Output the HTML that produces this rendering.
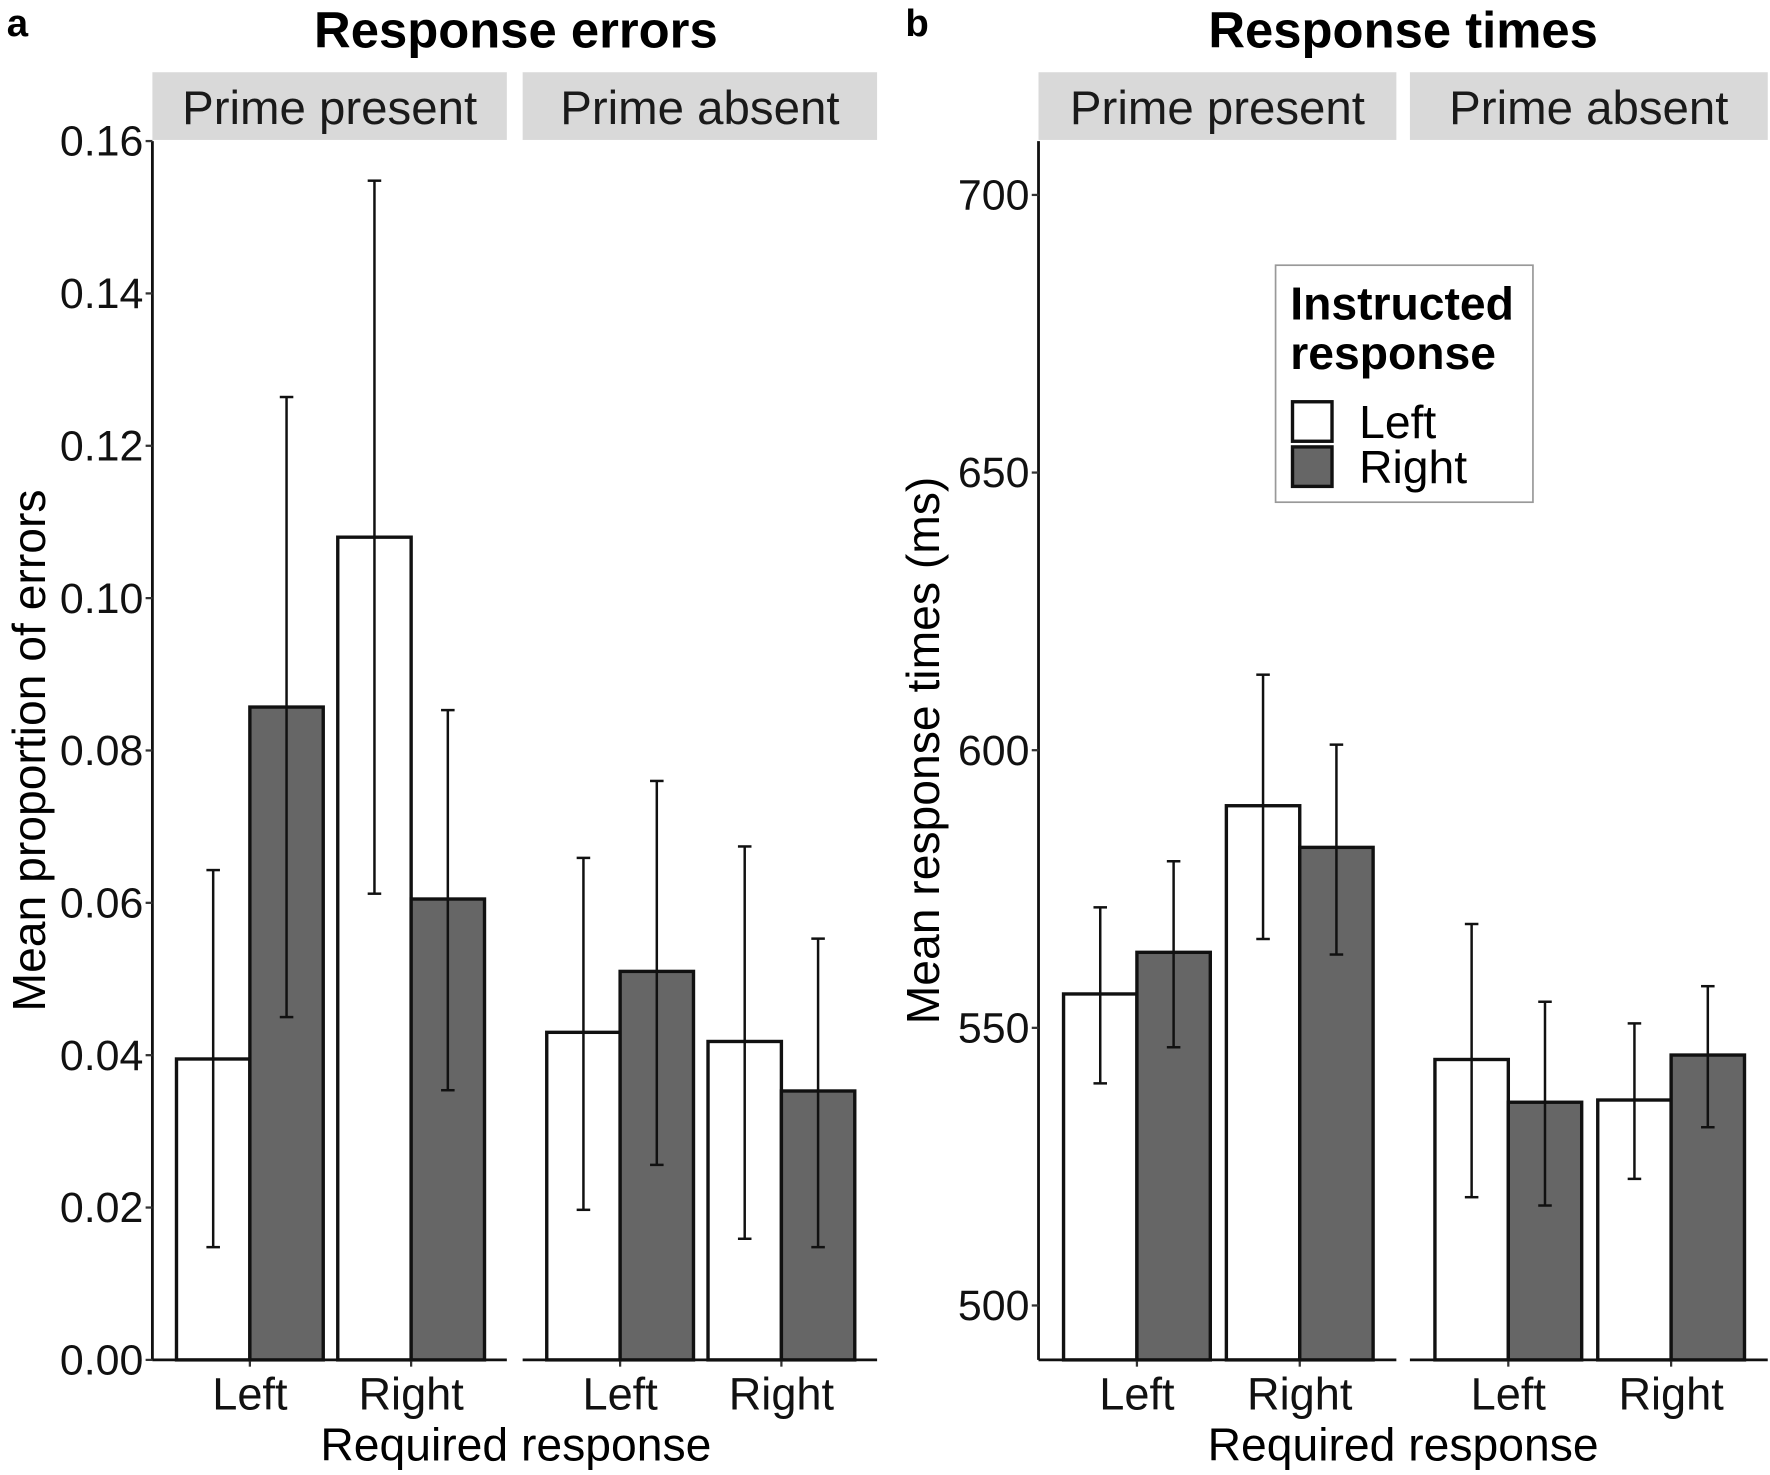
<!DOCTYPE html>
<html><head><meta charset="utf-8"><style>
html,body{margin:0;padding:0;background:#fff;}
svg{display:block;font-family:"Liberation Sans",Arial,sans-serif;}
</style></head><body>
<svg id="chart" width="1770" height="1475" viewBox="0 0 1568 1307" preserveAspectRatio="none" xmlns="http://www.w3.org/2000/svg">
<g id="root"></g>
</svg>
<script>
// ---- data ----
const facets = ["Prime present", "Prime absent"];
const categories = ["Left", "Right"];
const seriesNames = ["Left", "Right"];
// errors: [facet][category][series]
const errMean = [[[0.0395, 0.0857], [0.108, 0.0605]], [[0.043, 0.051], [0.0418, 0.0353]]];
const errLow  = [[[0.0148, 0.0450], [0.0612, 0.0354]], [[0.0197, 0.0256], [0.0159, 0.0148]]];
const errHigh = [[[0.0643, 0.1264], [0.1548, 0.0853]], [[0.0659, 0.0760], [0.0674, 0.0553]]];
const errTicks = [0, 0.02, 0.04, 0.06, 0.08, 0.10, 0.12, 0.14, 0.16];
const errTickLabels = ["0.00","0.02","0.04","0.06","0.08","0.10","0.12","0.14","0.16"];
// response times
const rtMean = [[[556.1, 563.6], [590.0, 582.5]], [[544.3, 536.6], [537.0, 545.1]]];
const rtLow  = [[[540.0, 546.5], [566.0, 563.2]], [[519.5, 518.0], [522.8, 532.1]]];
const rtHigh = [[[571.7, 580.0], [613.6, 601.0]], [[568.7, 554.7], [550.8, 557.5]]];
const rtTicks = [500, 550, 600, 650, 700];
const rtTickLabels = ["500","550","600","650","700"];

const NS = "http://www.w3.org/2000/svg";
const root = document.getElementById("root");
function mk(tag, attrs, parent, text) {
  const e = document.createElementNS(NS, tag);
  for (const k in attrs) e.setAttribute(k, attrs[k]);
  if (text !== undefined) e.textContent = text;
  (parent || root).appendChild(e);
  return e;
}
const fills = ["#ffffff", "#666666"];
const PT = 125, PB = 1205;

function panel(cfg) {
  const g = mk("g", {});
  
  
  const y = v => PB - (v - cfg.min) / (cfg.max - cfg.min) * (PB - PT);
  const t = mk("text", {x: cfg.titleX, y: 42, "font-size": 45, "font-weight": "bold", "text-anchor": "middle"}, g, cfg.title);
  
  
  const l = mk("text", {x: cfg.letterX, y: 32, "font-size": 34, "font-weight": "bold"}, g, cfg.letter);
  
  
  cfg.facetX.forEach((fx, fi) => {
    const fw = cfg.facetW;
    const s = mk("rect", {x: fx, y: 64, width: fw, height: 60, fill: "#d9d9d9"}, g);
    
    
    const st = mk("text", {x: fx + fw / 2, y: 110, "font-size": 42, "text-anchor": "middle", fill: "#1a1a1a"}, g, facets[fi]);
    
    
    categories.forEach((c, ci) => {
      const cx = fx + fw * (ci === 0 ? 0.275 : 0.73);
      const bw = 65;
      seriesNames.forEach((sn, si) => {
        const x0 = cx - bw + si * bw;
        const v = cfg.mean[fi][ci][si];
        const r = mk("rect", {x: x0, y: y(v), width: bw, height: PB - y(v), fill: fills[si], stroke: "#111", "stroke-width": 3}, g);
        
        
        const ex = x0 + bw / 2;
        const eg = mk("g", {stroke: "#111", "stroke-width": 2.2}, g);
        
        
        const lo = y(cfg.low[fi][ci][si]), hi = y(cfg.high[fi][ci][si]);
        mk("line", {x1: ex, x2: ex, y1: lo, y2: hi}, eg);
        mk("line", {x1: ex - 6, x2: ex + 6, y1: lo, y2: lo}, eg);
        mk("line", {x1: ex - 6, x2: ex + 6, y1: hi, y2: hi}, eg);
      });
      const tk = mk("line", {x1: cx, x2: cx, y1: PB, y2: PB + 6, stroke: "#333", "stroke-width": 2}, g);
      
      
      const tl = mk("text", {x: cx, y: 1249, "font-size": 40, "text-anchor": "middle", fill: "#111"}, g, c);
      
      
    });
    const ax = mk("line", {x1: fx, x2: fx + fw, y1: PB, y2: PB, stroke: "#111", "stroke-width": 2.5}, g);
    
    
  });
  const yl = mk("line", {x1: cfg.facetX[0], x2: cfg.facetX[0], y1: PT, y2: PB, stroke: "#111", "stroke-width": 2.5}, g);
  
  
  cfg.ticks.forEach((tv, i) => {
    const ty = y(tv);
    mk("line", {x1: cfg.facetX[0] - 6, x2: cfg.facetX[0], y1: ty, y2: ty, stroke: "#333", "stroke-width": 2}, g);
    const tl = mk("text", {x: cfg.facetX[0] - 8, y: ty + 13, "font-size": 38, "text-anchor": "end", fill: "#111"}, g, cfg.tickLabels[i]);
    
    
  });
  const yt = mk("text", {x: 0, y: 0, "font-size": 41, "text-anchor": "middle", transform: "translate(" + cfg.yTitleX + ",665) rotate(-90)"}, g, cfg.yTitle);
  
  
  const xt = mk("text", {x: cfg.titleX, y: 1294, "font-size": 41, "text-anchor": "middle"}, g, "Required response");
  
  
}

panel({name: "response-errors-panel", title: "Response errors", titleX: 457, letter: "a", letterX: 6,
  facetX: [135, 463], facetW: 314, min: 0, max: 0.16, mean: errMean, low: errLow, high: errHigh,
  ticks: errTicks, tickLabels: errTickLabels, yTitle: "Mean proportion of errors", yTitleX: 40});
panel({name: "response-times-panel", title: "Response times", titleX: 1243, letter: "b", letterX: 802,
  facetX: [920, 1249], facetW: 317, min: 490.2, max: 709.7, mean: rtMean, low: rtLow, high: rtHigh,
  ticks: rtTicks, tickLabels: rtTickLabels, yTitle: "Mean response times (ms)", yTitleX: 832});

// legend
const lg = mk("g", {});


mk("rect", {x: 1130, y: 235, width: 228, height: 210, fill: "#fff", stroke: "#999", "stroke-width": 1.5}, lg);
mk("text", {x: 1143, y: 283, "font-size": 41, "font-weight": "bold"}, lg, "Instructed");
mk("text", {x: 1143, y: 327, "font-size": 41, "font-weight": "bold"}, lg, "response");
seriesNames.forEach((sn, i) => {
  const k = mk("rect", {x: 1145, y: 356 + i * 40, width: 35, height: 35, fill: fills[i], stroke: "#111", "stroke-width": 3}, lg);
  
  
  const tx = mk("text", {x: 1204, y: 388 + i * 40, "font-size": 41}, lg, sn);
  
  
});
</script>
</body></html>
